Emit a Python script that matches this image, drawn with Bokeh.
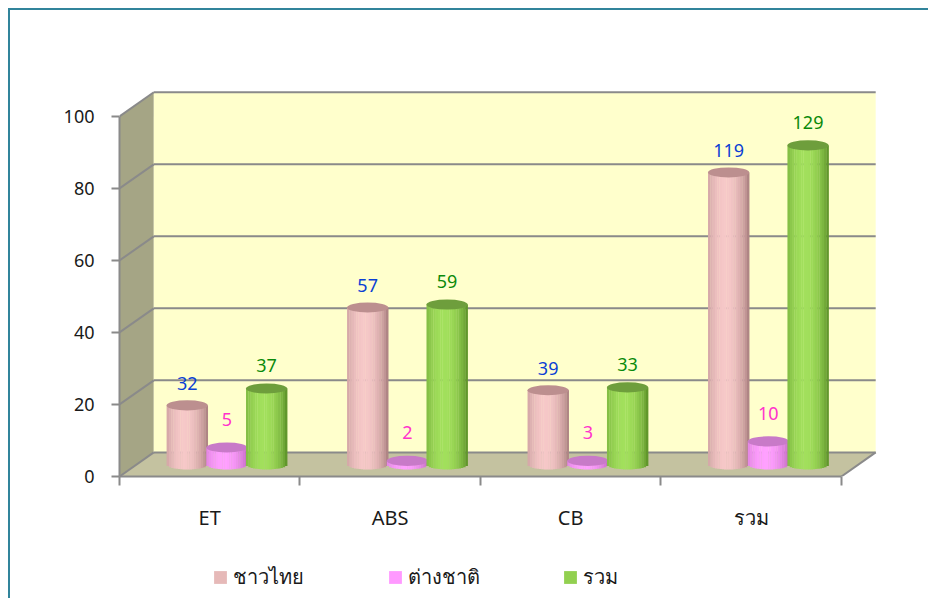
import math
from bokeh.plotting import figure
from bokeh.layouts import column
from bokeh.models import Range1d, FixedTicker, Legend, LegendItem
from bokeh.core.properties import value
from bokeh.embed import file_html
from bokeh.resources import INLINE

# ---------------- data ----------------
categories = ["ET", "ABS", "CB", "รวม"]
series_names = ["ชาวไทย", "ต่างชาติ", "รวม"]
# bar heights as drawn on the value axis
thai_values = [16.4, 43.6, 20.6, 81.1]
foreign_values = [4.7, 1.0, 1.0, 6.4]
total_values = [21.1, 44.4, 21.4, 88.6]
# data labels shown above the bars
thai_labels = ["32", "57", "39", "119"]
foreign_labels = ["5", "2", "3", "10"]
total_labels = ["37", "59", "33", "129"]
y_ticks = [0, 20, 40, 60, 80, 100]

# ---------------- style / geometry ----------------
FONT = "Noto Sans"
DX = 0.19          # depth offset (category units)
DY = 6.7           # depth offset (value units)
Y_MAX = 100
BAR_W = 0.228
OFFSETS = [-0.22, 0.0, 0.22]
ELL_H = 2.8
X_END = 4 + DX + 0.01
Y_END = Y_MAX + DY + 0.5
FW = round(X_END * 180.5)
FH = round(Y_END * 3.6)
W = 918
ML, MT, MB = 109, 80, 70
H1 = MT + FH + MB
H2 = 52

GRID = "#8A8A8A"
series_light = [(246, 200, 200), (255, 160, 255), (162, 224, 92)]
series_dark = [(170, 128, 128), (196, 104, 196), (92, 146, 40)]
series_top = ["#BC8F8F", "#C87AC8", "#6E9E3C"]
label_colors = ["#0B3FD4", "#FF33CC", "#0A8A0A"]
label_offsets = [-22, -28, -23]
legend_colors = ["#E6B9B8", "#FF99FF", "#92D050"]

fig = figure(width=W, height=H1,
             x_range=Range1d(0, X_END), y_range=Range1d(0, Y_END),
             output_backend="svg", toolbar_location=None,
             min_border_left=ML, min_border_right=W - ML - FW,
             min_border_top=MT, min_border_bottom=MB)
fig.outline_line_color = None
fig.xgrid.visible = False
fig.ygrid.visible = False
fig.background_fill_color = "white"

# ---------------- walls ----------------
fig.patch([0, 0, DX, DX], [0, Y_MAX, Y_MAX + DY, DY], fill_color="#A5A585", line_color=None)
fig.quad(left=[DX], right=[4 + DX], bottom=[DY], top=[Y_MAX + DY], fill_color="#FFFFCC", line_color=None)
fig.patch([0, 4, 4 + DX, DX], [0, 0, DY, DY], fill_color="#C4C2A0", line_color=None)

# gridlines on back wall + diagonals on side wall
fig.segment(x0=[DX] * len(y_ticks), y0=[v + DY for v in y_ticks],
            x1=[4 + DX] * len(y_ticks), y1=[v + DY for v in y_ticks],
            line_color=GRID, line_width=2)
fig.segment(x0=[0] * len(y_ticks), y0=y_ticks,
            x1=[DX] * len(y_ticks), y1=[v + DY for v in y_ticks],
            line_color=GRID, line_width=2)
fig.segment(x0=[4], y0=[0], x1=[4 + DX], y1=[DY], line_color=GRID, line_width=2)

# ---------------- cylinders ----------------
N = 18
def shade(t):
    s = math.cos((t - 0.42) * math.pi / 1.12)
    return max(0.0, s) ** 0.7

def mix(a, b, f):
    return "#%02x%02x%02x" % tuple(int(round(a[i] + (b[i] - a[i]) * f)) for i in range(3))

all_values = [thai_values, foreign_values, total_values]
all_labels = [thai_labels, foreign_labels, total_labels]
base = DY / 2
for s, vals in enumerate(all_values):
    L, R, B, T, C = [], [], [], [], []
    cxs, tops = [], []
    for i, v in enumerate(vals):
        cx = i + 0.5 + OFFSETS[s] + DX / 2
        top = base + v
        cxs.append(cx)
        tops.append(top)
        for k in range(N):
            xl = cx - BAR_W / 2 + BAR_W * k / N
            xr = cx - BAR_W / 2 + BAR_W * (k + 1) / N
            xm = (xl + xr) / 2
            u = (xm - cx) / (BAR_W / 2)
            L.append(xl)
            R.append(xr + 0.0015)
            B.append(base - (ELL_H / 2) * math.sqrt(max(0.0, 1 - u * u)))
            T.append(top)
            C.append(mix(series_dark[s], series_light[s], shade((k + 0.5) / N)))
    fig.quad(left=L, right=R, bottom=B, top=T, fill_color=C, line_color=None)
    fig.ellipse(x=cxs, y=tops, width=BAR_W, height=ELL_H, fill_color=series_top[s], line_color=None)
    fig.text(x=cxs, y=tops, text=all_labels[s], y_offset=label_offsets[s],
             text_align="center", text_baseline="middle",
             text_font=value(FONT), text_font_size="18px", text_color=label_colors[s])

# ---------------- axes ----------------
fig.yaxis.ticker = FixedTicker(ticks=y_ticks)
fig.yaxis.bounds = (0, Y_MAX)
fig.yaxis.axis_line_color = GRID
fig.yaxis.axis_line_width = 2
fig.yaxis.major_tick_line_color = GRID
fig.yaxis.major_tick_line_width = 2
fig.yaxis.major_tick_out = 8
fig.yaxis.major_tick_in = 0
fig.yaxis.minor_tick_line_color = None
fig.yaxis.major_label_standoff = 17
fig.yaxis.major_label_text_font = FONT
fig.yaxis.major_label_text_font_size = "18px"
fig.yaxis.major_label_text_color = "#1A1A1A"

fig.xaxis.ticker = FixedTicker(ticks=[i + 0.5 for i in range(len(categories))],
                               minor_ticks=list(range(len(categories) + 1)))
fig.xaxis.major_label_overrides = {i + 0.5: c for i, c in enumerate(categories)}
fig.xaxis.bounds = (0, len(categories))
fig.xaxis.axis_line_color = GRID
fig.xaxis.axis_line_width = 2
fig.xaxis.major_tick_line_color = None
fig.xaxis.minor_tick_line_color = GRID
fig.xaxis.minor_tick_line_width = 2
fig.xaxis.minor_tick_out = 9
fig.xaxis.minor_tick_in = 0
fig.xaxis.major_tick_out = 0
fig.xaxis.major_tick_in = 0
fig.xaxis.major_label_standoff = 18
fig.xaxis.major_label_text_font = FONT
fig.xaxis.major_label_text_font_size = "20px"
fig.xaxis.major_label_text_color = "#1A1A1A"

# ---------------- legend (own strip below the chart) ----------------
leg = figure(width=W, height=H2, x_range=Range1d(0, W), y_range=Range1d(0, H2),
             x_axis_type=None, y_axis_type=None,
             output_backend="svg", toolbar_location=None,
             min_border_left=0, min_border_right=0, min_border_top=0, min_border_bottom=0)
leg.outline_line_color = None
leg.xgrid.visible = False
leg.ygrid.visible = False
items = []
for name, c in zip(series_names, legend_colors):
    # off-screen swatch renderer, used only for the legend glyph
    r = leg.quad(left=[-20], right=[-10], bottom=[-20], top=[-10], fill_color=c, line_color=None)
    items.append(LegendItem(label=name, renderers=[r]))
legend = Legend(items=items, orientation="horizontal", location=(93, 5),
                glyph_width=16, glyph_height=16, label_standoff=5,
                label_width=130, spacing=24, padding=0, margin=0,
                border_line_color=None, background_fill_alpha=0,
                label_text_font=FONT, label_text_font_size="20px",
                label_text_color="#1A1A1A")
leg.add_layout(legend)

p = column(fig, leg, spacing=0)
p.styles = {"border-top": "2px solid #31849B", "border-left": "2px solid #31849B",
            "margin-left": "8px", "margin-top": "8px"}

open("out.html", "w").write(file_html(p, INLINE))
